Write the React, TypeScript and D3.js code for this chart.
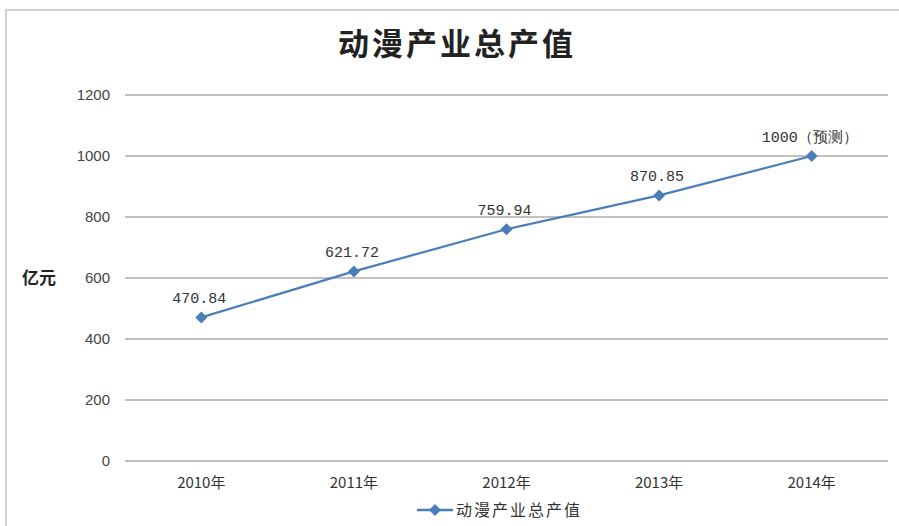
import React from "react";
import * as d3 from "d3";

const categories = ["2010年", "2011年", "2012年", "2013年", "2014年"];
const values = [470.84, 621.72, 759.94, 870.85, 1000];
const pointLabels = ["470.84", "621.72", "759.94", "870.85", "1000（预测）"];
const yTicks = [0, 200, 400, 600, 800, 1000, 1200];
const title = "动漫产业总产值";
const yTitle = "亿元";
const seriesName = "动漫产业总产值";

const W = 899, H = 526;
const left = 125, right = 888, top = 95, bottom = 461;
const color = "#4A7EBB";
const cjk = "'Noto Sans CJK SC', sans-serif";
const mono = "'Liberation Mono', 'DejaVu Sans Mono', monospace";

const diamond = (r: number) => {
  const p = d3.path();
  p.moveTo(0, -r);
  p.lineTo(r, 0);
  p.lineTo(0, r);
  p.lineTo(-r, 0);
  p.closePath();
  return p.toString();
};

export default function App() {
  const x = d3.scaleBand<string>().domain(categories).range([left, right]);
  const y = d3.scaleLinear().domain([0, 1200]).range([bottom, top]);
  const cx = (c: string) => (x(c) as number) + x.bandwidth() / 2;
  const line = d3.line<number>().x((_, i) => cx(categories[i])).y((v) => y(v));
  const dm = diamond(6);
  return (
    <svg width={W} height={H} style={{ position: "absolute", left: 0, top: 0 }}>
      <rect x={0} y={0} width={W} height={H} fill="#fff" />
      <rect x={6} y={10} width={W + 10} height={H + 10} fill="none" stroke="#c4c4c4" strokeWidth={1.5} />
      <text x={457} y={55} textAnchor="middle" fontFamily={cjk} fontWeight="bold" fontSize={31} letterSpacing={3} fill="#222">{title}</text>
      {yTicks.map((t) => (
        <g key={t}>
          <line x1={left} x2={right} y1={y(t)} y2={y(t)} stroke="#c0c0c0" strokeWidth={2} />
          <text x={110} y={y(t) + 5} textAnchor="end" fontFamily="'Liberation Sans', sans-serif" fontSize={15} fill="#444">{t}</text>
        </g>
      ))}
      <text x={39} y={284} textAnchor="middle" fontFamily={cjk} fontWeight="bold" fontSize={17} fill="#222">{yTitle}</text>
      {categories.map((c) => (
        <text key={c} x={cx(c)} y={488} textAnchor="middle" fontFamily={cjk} fontSize={15} fill="#333">{c}</text>
      ))}
      <path d={line(values) as string} fill="none" stroke={color} strokeWidth={2.2} />
      {values.map((v, i) => (
        <g key={i}>
          <path d={dm} transform={`translate(${cx(categories[i])},${y(v)})`} fill={color} />
          <text x={cx(categories[i]) - 2} y={y(v) - 14} textAnchor="middle" fontFamily={mono} fontSize={15} fill="#333">{pointLabels[i]}</text>
        </g>
      ))}
      <g>
        <line x1={417} x2={453} y1={510} y2={510} stroke={color} strokeWidth={2.5} />
        <path d={dm} transform="translate(435,510)" fill={color} />
        <text x={456} y={516} fontFamily={cjk} fontSize={16} letterSpacing={2} fill="#333">{seriesName}</text>
      </g>
    </svg>
  );
}
